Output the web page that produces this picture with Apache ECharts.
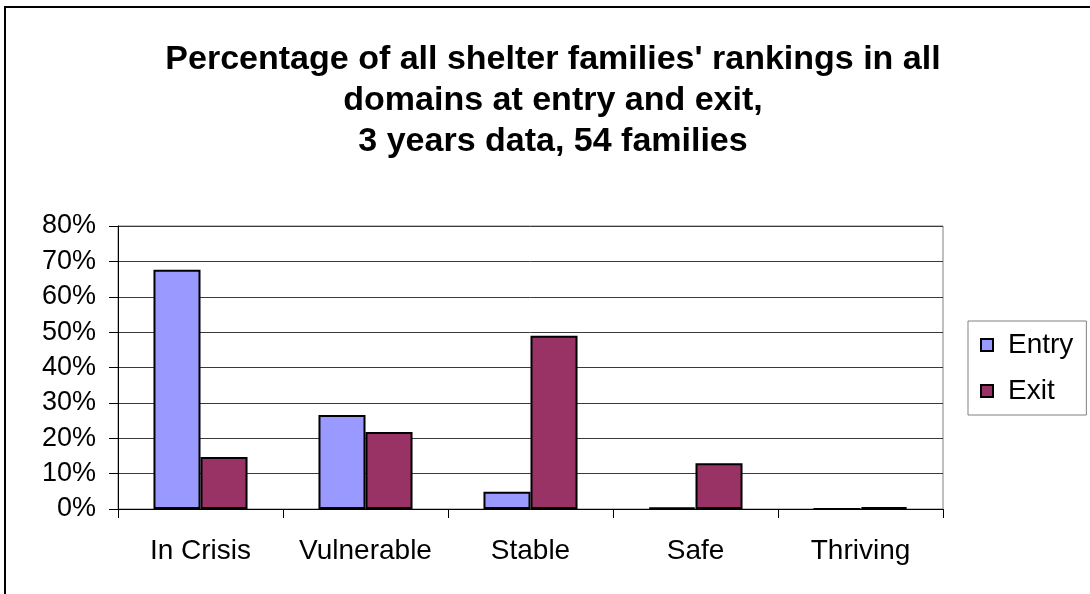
<!DOCTYPE html>
<html>
<head>
<meta charset="utf-8">
<script src="https://cdn.jsdelivr.net/npm/echarts@6/dist/echarts.min.js"></script>
<style>
html, body { margin: 0; padding: 0; background: #fff; }
#chart { width: 1090px; height: 594px; }
</style>
</head>
<body>
<div id="chart"></div>
<script>
// Ranking categories along the x axis
const categories = ['In Crisis', 'Vulnerable', 'Stable', 'Safe', 'Thriving'];
// Share of rankings (percent) at entry and at exit
const entryValues = [67.6, 26.6, 4.9, 0.4, 0];
const exitValues = [14.7, 21.8, 49.0, 12.9, 0.5];
// Y axis tick range
const yMin = 0, yMax = 80, yStep = 10;

const chart = echarts.init(document.getElementById('chart'), null, { renderer: 'canvas' });
const font = '"Liberation Sans", Arial, sans-serif';

chart.setOption({
  animation: false,
  backgroundColor: '#fff',
  title: {
    text: "Percentage of all shelter families' rankings in all\ndomains at entry and exit,\n3 years data, 54 families",
    left: 548,
    textAlign: 'center',
    top: 34,
    textStyle: { fontFamily: font, fontSize: 34, fontWeight: 'bold', color: '#000', lineHeight: 41 }
  },
  legend: {
    orient: 'vertical',
    left: 968,
    top: 321,
    padding: [9, 13, 9, 12],
    itemGap: 16,
    itemWidth: 12,
    itemHeight: 12,
    borderColor: '#808080',
    borderWidth: 1,
    borderRadius: 0,
    icon: 'rect',
    textStyle: { fontFamily: font, fontSize: 28, color: '#000', lineHeight: 30, padding: [0, 0, 0, 10] },
    data: ['Entry', 'Exit']
  },
  grid: {
    left: 118, right: 147, top: 226, bottom: 85,
    show: true, borderColor: '#808080', borderWidth: 1
  },
  xAxis: {
    type: 'category',
    data: categories,
    axisLine: { lineStyle: { color: '#000', width: 1 } },
    axisTick: { show: true, length: 9, lineStyle: { color: '#000' } },
    axisLabel: { interval: 0, fontFamily: font, fontSize: 28, color: '#000', margin: 28 }
  },
  yAxis: {
    type: 'value',
    min: yMin, max: yMax, interval: yStep,
    axisLine: { show: true, lineStyle: { color: '#000', width: 1 } },
    axisTick: { show: true, length: 9, lineStyle: { color: '#000' } },
    axisLabel: { fontFamily: font, fontSize: 27, color: '#000', margin: 22, formatter: '{value}%' },
    splitLine: { lineStyle: { color: '#3a3a3a', width: 1 } }
  },
  series: [
    {
      name: 'Entry', type: 'bar', data: entryValues,
      barGap: '0%', barCategoryGap: '43%',
      itemStyle: { color: '#9999FF', borderColor: '#000', borderWidth: 2 }
    },
    {
      name: 'Exit', type: 'bar', data: exitValues,
      barGap: '0%', barCategoryGap: '43%',
      itemStyle: { color: '#993366', borderColor: '#000', borderWidth: 2 }
    }
  ],
  graphic: [
    {
      type: 'rect', silent: true,
      shape: { x: 5, y: 7, width: 1200, height: 700 },
      style: { fill: 'none', stroke: '#000', lineWidth: 2 }
    }
  ]
});
</script>
</body>
</html>
